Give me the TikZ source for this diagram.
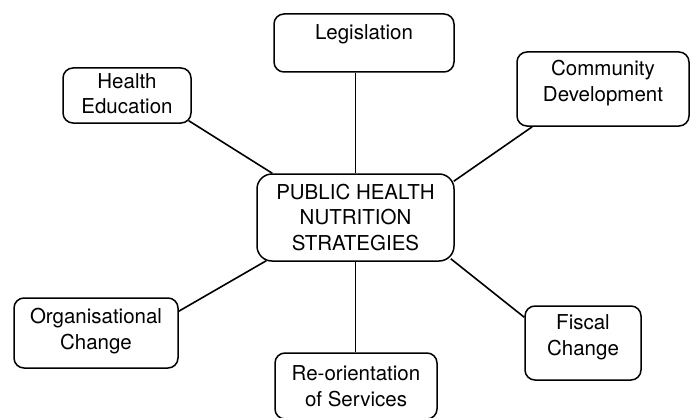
\documentclass[tikz,border=0pt]{standalone}
\usepackage{fontspec}
\setmainfont{TeX Gyre Heros}
\usetikzlibrary{calc}
\begin{document}
\begin{tikzpicture}[x=1pt,y=-1pt,
  box/.style={draw, line width=1.5pt, rounded corners=10pt, inner sep=0pt, align=center,
    font=\fontsize{20.5}{25.5}\selectfont},
  link/.style={line width=1.6pt}]
\useasboundingbox (0,0) rectangle (692,417);
\clip (0,0) rectangle (692,417);
\node[box, minimum width=180pt, minimum height=58pt] (leg) at (364,43) {Legislation\rule[-22pt]{0pt}{0pt}};
\node[box, minimum width=128pt, minimum height=55pt] (he) at (127,95.5) {Health\\Education\rule[-4pt]{0pt}{0pt}};
\node[box, minimum width=172pt, minimum height=74pt] (cd) at (603,89) {Community\\Development\rule[-16pt]{0pt}{0pt}};
\node[box, rounded corners=15pt, minimum width=197pt, minimum height=87pt] (c) at (355.5,217.5) {PUBLIC HEALTH\\NUTRITION\\STRATEGIES};
\node[box, minimum width=164pt, minimum height=70pt] (org) at (96,333) {Organisational\\Change\rule[-8pt]{0pt}{0pt}};
\node[box, minimum width=162pt, minimum height=66pt] (reo) at (356,386) {Re-orientation\\of Services};
\node[box, minimum width=116pt, minimum height=74pt] (fis) at (583,343) {Fiscal\\Change\rule[-16pt]{0pt}{0pt}};
\draw[link] ($(he.south east)+(-3,-3)$) -- ($(c.north west)+(16,0)$);
\draw[link] (c.north) -- (c.north |- leg.south);
\draw[link] ($(cd.south west)+(16,0)$) -- ($(c.north east)+(-1,8)$);
\draw[link] ($(org.north east)+(0,14)$) -- ($(c.south west)+(10,-1)$);
\draw[link] (c.south) -- (c.south |- reo.north);
\draw[link] ($(c.south east)+(-4,-3)$) -- ($(fis.north west)+(0,12)$);
\end{tikzpicture}
\end{document}
